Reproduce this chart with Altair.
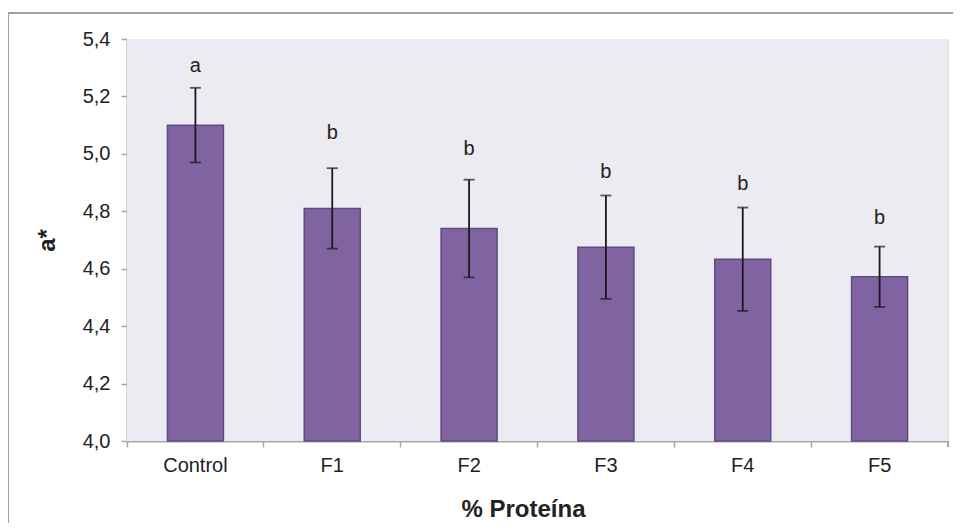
import altair as alt
import pandas as pd

categories = ["Control", "F1", "F2", "F3", "F4", "F5"]
means = [5.10, 4.81, 4.74, 4.675, 4.633, 4.572]
errors = [0.13, 0.14, 0.17, 0.18, 0.18, 0.105]
letters = ["a", "b", "b", "b", "b", "b"]
letter_y = [5.306, 5.072, 5.017, 4.937, 4.895, 4.776]

df = pd.DataFrame({
    "cat": categories,
    "mean": means,
    "err": errors,
    "letter": letters,
    "ly": letter_y,
})
df["lo"] = df["mean"] - df["err"]
df["hi"] = df["mean"] + df["err"]

W, H = 821, 402

xscale = alt.Scale(domain=categories, paddingInner=0, paddingOuter=0)
yscale = alt.Scale(domain=[4.0, 5.4], nice=False, zero=False)

x = alt.X("cat:N", scale=xscale, sort=categories,
          axis=alt.Axis(title="% Proteína", bandPosition=0,
                        labelAngle=0, labelFontSize=20, labelColor="#222222",
                        labelPadding=8, tickSize=6, tickColor="#a6a6a6", tickWidth=1.5,
                        domainColor="#a6a6a6", domainWidth=2,
                        titleFontSize=24, titleFontWeight="bold", titleColor="#222222",
                        titleX=396, titleY=75, titleBaseline="alphabetic", titleAlign="center"))

base = alt.Chart(df)

bg = base.mark_rect(color="#ebebf1").encode(
    x=alt.value(0), x2=alt.value(W), y=alt.value(0), y2=alt.value(H)
)

border = base.mark_rect(filled=False, stroke="#a0a0a0", strokeWidth=1.5).encode(
    x=alt.value(-119), x2=alt.value(W + 40), y=alt.value(-26), y2=alt.value(H + 150)
)

bars = base.mark_bar(size=56, color="#8064a2", stroke="#5e4a85", strokeWidth=1.5).encode(
    x=x,
    y=alt.Y("mean:Q", scale=yscale,
            axis=alt.Axis(title="a*", values=[4.0, 4.2, 4.4, 4.6, 4.8, 5.0, 5.2, 5.4],
                          format=".1f", labelExpr="replace(datum.label, '.', ',')",
                          labelFontSize=20, labelColor="#222222", labelPadding=11,
                          tickSize=6, tickColor="#a6a6a6", tickWidth=1.5,
                          domainColor="#a6a6a6", domainWidth=2, grid=False,
                          titleFontSize=24, titleFontWeight="bold", titleColor="#222222",
                          titleX=-80, titleY=H / 2, titleBaseline="middle",
                          titleAlign="center", titleAngle=270)),
    y2=alt.datum(4.0),
)

rules = base.mark_rule(color="#1a1a1a", strokeWidth=1.8).encode(
    x=alt.X("cat:N", scale=xscale, sort=categories),
    y=alt.Y("lo:Q", scale=yscale),
    y2="hi:Q",
)

cap_lo = base.mark_tick(color="#1a1a1a", size=11, thickness=1.8, orient="horizontal").encode(
    x=alt.X("cat:N", scale=xscale, sort=categories),
    y=alt.Y("lo:Q", scale=yscale),
)
cap_hi = base.mark_tick(color="#1a1a1a", size=11, thickness=1.8, orient="horizontal").encode(
    x=alt.X("cat:N", scale=xscale, sort=categories),
    y=alt.Y("hi:Q", scale=yscale),
)

text = base.mark_text(fontSize=20, color="#222222", baseline="middle", font="Liberation Sans").encode(
    x=alt.X("cat:N", scale=xscale, sort=categories),
    y=alt.Y("ly:Q", scale=yscale),
    text="letter:N",
)

end_tick = base.mark_rule(color="#a6a6a6", strokeWidth=1.5).encode(
    x=alt.value(W), y=alt.value(H), y2=alt.value(H + 6)
)

chart = alt.layer(bg, border, bars, rules, cap_lo, cap_hi, text, end_tick).properties(
    width=W, height=H,
    autosize=alt.AutoSizeParams(type="none"),
    padding={"left": 119, "top": 31, "right": 5, "bottom": 82},
    background="white",
).configure_view(
    strokeWidth=0
).configure(
    font="Liberation Sans"
)

chart.save("out.html", embed_options={"renderer": "svg", "actions": False})
